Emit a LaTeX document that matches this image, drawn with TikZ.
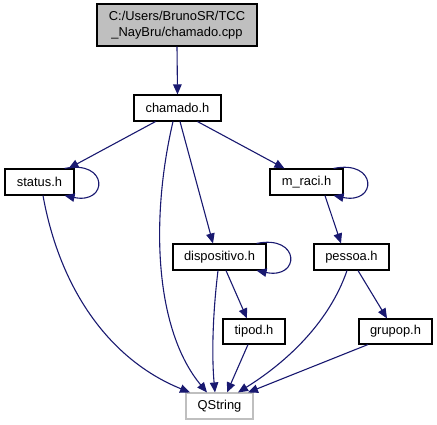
\documentclass[tikz,border=0pt]{standalone}
\usepackage{fontspec}
\setmainfont{Liberation Sans}
\usetikzlibrary{arrows.meta,calc}
\definecolor{edgeblue}{HTML}{191970}
\definecolor{boxgray}{HTML}{BFBFBF}
\begin{document}
\begin{tikzpicture}[x=1pt,y=-1pt,
  file/.style={draw=black,line width=1.1pt,fill=white,inner sep=0pt,minimum height=26pt,font=\fontsize{12.9}{15.5}\selectfont},
  dep/.style={draw=edgeblue,line width=1.1pt,-{Triangle[length=10pt,width=8.5pt]}}]
\useasboundingbox (0,0) rectangle (437,425);
\node[file,fill=boxgray,minimum width=160pt,minimum height=42pt,align=center] (top) at (177,25) {C:/Users/BrunoSR/TCC\\\_NayBru/chamado.cpp};
\node[file,minimum width=87pt] (chamado) at (177.5,108) {chamado.h};
\node[file,minimum width=69pt] (status) at (39.5,182) {status.h};
\node[file,minimum width=73pt] (mraci) at (306.5,182) {m\_raci.h};
\node[file,minimum width=93pt] (disp) at (219.5,257) {dispositivo.h};
\node[file,minimum width=75pt] (pessoa) at (351.5,257) {pessoa.h};
\node[file,minimum width=62pt,minimum height=25pt] (tipod) at (254,331.5) {tipod.h};
\node[file,minimum width=73pt,minimum height=25pt] (grupop) at (395.5,331.5) {grupop.h};
\node[file,draw=boxgray,minimum width=67pt] (qstring) at (219.5,406) {QString};

\draw[dep] (top.south) -- (chamado.north);
\draw[dep] ($(chamado.south)+(-22,0)$) -- ($(status.north)+(29,0)$);
\draw[dep] ($(chamado.south)+(20,0)$) -- ($(mraci.north)+(-22,0)$);
\draw[dep] ($(chamado.south)+(2.5,0)$) -- ($(disp.north)+(-6.5,0)$);
\draw[dep] ($(chamado.south)+(-4.5,0)$) .. controls (150,220) and (155,330) .. ($(qstring.north)+(-12.5,0)$);
\draw[dep] ($(status.south)+(3.5,0)$) .. controls (60,290) and (110,360) .. ($(qstring.north)+(-29.5,0)$);
\draw[dep] ($(status.north east)+(-10,0)$) .. controls +(44,-9) and +(44,9) .. ($(status.south east)+(-10,0)$);
\draw[dep] ($(mraci.north east)+(-10,0)$) .. controls +(44,-9) and +(44,9) .. ($(mraci.south east)+(-10,0)$);
\draw[dep] ($(disp.north east)+(-10,0)$) .. controls +(44,-9) and +(44,9) .. ($(disp.south east)+(-10,0)$);
\draw[dep] ($(mraci.south)+(18.5,0)$) -- ($(pessoa.north)+(-10.5,0)$);
\draw[dep] ($(disp.south)+(6.5,0)$) -- ($(tipod.north)+(-7,0)$);
\draw[dep] ($(disp.south)+(-1.5,0)$) .. controls (212,320) and (212,360) .. ($(qstring.north)+(-4.5,0)$);
\draw[dep] ($(tipod.south)+(-6,0)$) -- ($(qstring.north)+(7.5,0)$);
\draw[dep] ($(pessoa.south)+(-4.5,0)$) .. controls (330,320) and (290,360) .. ($(qstring.north)+(18.5,0)$);
\draw[dep] ($(pessoa.south)+(6.5,0)$) -- ($(grupop.north)+(-8.5,0)$);
\draw[dep] ($(grupop.south)+(-27.5,0)$) -- ($(qstring.north)+(28.5,0)$);
\end{tikzpicture}
\end{document}
